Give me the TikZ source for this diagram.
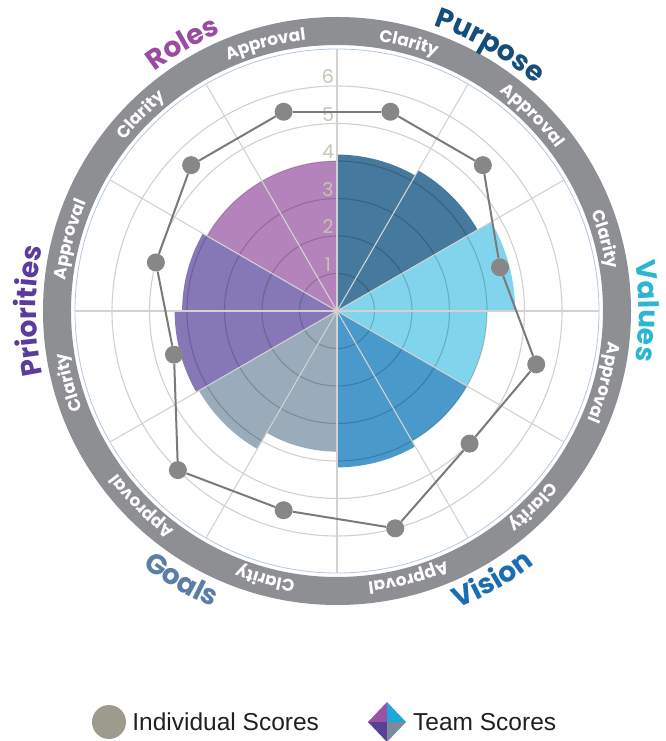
\documentclass[tikz,border=0pt]{standalone}
\usepackage{fontspec}
\setmainfont{Liberation Sans}
\newfontfamily\catfont{Poppins}
\usetikzlibrary{positioning,decorations.text}
\definecolor{purposefill}{HTML}{45799D}
\definecolor{valuesfill}{HTML}{80D4EC}
\definecolor{visionfill}{HTML}{4A99CB}
\definecolor{goalsfill}{HTML}{9AABBA}
\definecolor{priofill}{HTML}{8677B7}
\definecolor{rolesfill}{HTML}{B583BB}
\definecolor{purposetxt}{HTML}{164E7B}
\definecolor{valuestxt}{HTML}{2BB7D3}
\definecolor{visiontxt}{HTML}{1A6DB2}
\definecolor{goalstxt}{HTML}{5D7EA3}
\definecolor{priotxt}{HTML}{5B3B9B}
\definecolor{rolestxt}{HTML}{9A4CA1}
\definecolor{ringgray}{HTML}{8E8F93}
\definecolor{guideblue}{HTML}{B3C7DE}
\definecolor{spokegray}{HTML}{D2D2D2}
\definecolor{numgray}{HTML}{C6C4B2}
\definecolor{dotgray}{HTML}{878787}
\definecolor{linegray}{HTML}{7A7A7A}
\definecolor{indivgray}{HTML}{9C9B8D}
\definecolor{legtext}{HTML}{231F20}
\definecolor{diaTL}{HTML}{9B52A2}
\definecolor{diaTR}{HTML}{1AA8DC}
\definecolor{diaBL}{HTML}{5A3F96}
\definecolor{diaBR}{HTML}{7B8B9E}

\begin{document}
\begin{tikzpicture}[x=1pt,y=1pt,
  dot/.style={circle,fill=dotgray,inner sep=0pt,minimum size=18pt},
  scoreline/.style={linegray,line width=2pt},
  numlabel/.style={text=numgray,inner sep=0pt,font=\catfont\fontsize{19}{19}\selectfont},
  ringtext/.style={decorate,decoration={text along path,text align=center,
    text={|\catfont\bfseries\fontsize{17}{17}\selectfont\color{white}|#1}}},
  legend/.style={text=legtext,inner sep=0pt,font=\fontsize{24.5}{24.5}\selectfont}]
  \def\rstep{37.5}
  \useasboundingbox (-337,-430) rectangle (328,311);
  \fill[ringgray,even odd rule] (0,0) circle (294) (0,0) circle (266);
  \draw[guideblue,line width=0.8pt] (0,0) circle (262);
  \foreach \s/\r/\c in {90/4.17/purposefill,60/4.33/purposefill,30/4.75/valuesfill,0/4.0/valuesfill,
      -30/4.0/visionfill,-60/4.17/visionfill,-90/3.75/goalsfill,-120/4.25/goalsfill,
      -150/4.33/priofill,180/4.13/priofill,150/4.0/rolesfill,120/4.0/rolesfill}
    \fill[\c] (0,0) -- (\s:\r*\rstep) arc[start angle=\s,end angle=\s-30,radius=\r*\rstep] -- cycle;
  \foreach \k in {1,...,6}
    \draw[black,opacity=0.18,line width=1.1pt] (0,0) circle (\k*\rstep);
  \foreach \a in {0,30,...,330}
    \draw[spokegray,line width=1.1pt] (0,0) -- (\a:262);
  \foreach \k in {1,...,6}
    \node[numlabel] (n\k) at (-9,\k*\rstep+9) {\k};
  \foreach \i/\a/\v in {1/75/5.5,2/45/5.5,3/15/4.5,4/-15/5.5,5/-45/5,6/-75/6,
      7/-105/5.5,8/-135/6,9/-165/4.5,10/165/5,11/135/5.5,12/105/5.5}
    \node[dot] (d\i) at (\a:\v*\rstep) {};
  \foreach \i [remember=\i as \j (initially 12)] in {1,...,12}
    \draw[scoreline] (d\j) -- (d\i);
  \foreach \a in {75,15,-45,-105,-165,135}
    \path[ringtext={Clarity}] (\a+25:273) arc[start angle=\a+25,end angle=\a-25,radius=273];
  \foreach \a in {45,-15,-75,-135,165,105}
    \path[ringtext={Approval}] (\a+25:273) arc[start angle=\a+25,end angle=\a-25,radius=273];
  \path[decorate,decoration={text along path,text align=center,
    text={|\catfont\bfseries\fontsize{28}{28}\selectfont\color{purposetxt}|Purpose}}]
    (90:301) arc[start angle=90,end angle=30,radius=301];
  \path[decorate,decoration={text along path,text align=center,
    text={|\catfont\bfseries\fontsize{28}{28}\selectfont\color{valuestxt}|Values}}]
    (30:302) arc[start angle=30,end angle=-30,radius=302];
  \path[decorate,decoration={text along path,text align=center,
    text={|\catfont\bfseries\fontsize{28}{28}\selectfont\color{priotxt}|Priorities}}]
    (210:301) arc[start angle=210,end angle=150,radius=301];
  \path[decorate,decoration={text along path,text align=center,
    text={|\catfont\bfseries\fontsize{28}{28}\selectfont\color{rolestxt}|Roles}}]
    (150:301) arc[start angle=150,end angle=90,radius=301];
  \path[decorate,decoration={text along path,text align=center,
    text={|\catfont\bfseries\fontsize{28}{28}\selectfont\color{visiontxt}|Vision}}]
    (-90:321) arc[start angle=-90,end angle=-30,radius=321];
  \path[decorate,decoration={text along path,text align=center,
    text={|\catfont\bfseries\fontsize{28}{28}\selectfont\color{goalstxt}|Goals}}]
    (-150:321) arc[start angle=-150,end angle=-90,radius=321];
  \node[circle,fill=indivgray,inner sep=0pt,minimum size=34pt] (indiv) at (-228,-411) {};
  \node[legend,right=6pt of indiv] (indivtxt) {Individual Scores};
  \coordinate (tm) at (50,-411);
  \fill[diaTL] (tm) -- ++(-19,0) -- ++(19,20) -- cycle;
  \fill[diaTR] (tm) -- ++(19,0) -- ++(-19,20) -- cycle;
  \fill[diaBL] (tm) -- ++(-19,0) -- ++(19,-20) -- cycle;
  \fill[diaBR] (tm) -- ++(19,0) -- ++(-19,-20) -- cycle;
  \node[legend,anchor=west] (teamtxt) at (76,-411) {Team Scores};
\end{tikzpicture}
\end{document}
